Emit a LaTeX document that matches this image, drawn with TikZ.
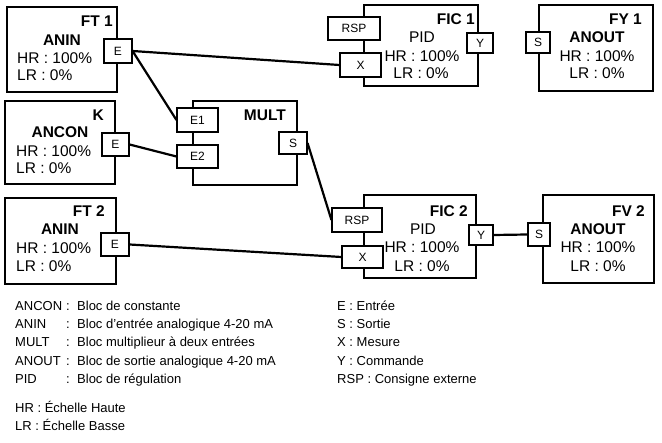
\documentclass[tikz,border=0pt]{standalone}
\usepackage{fontspec}
\setmainfont{Liberation Sans}
\newcommand{\blocfont}{\fontsize{15.5}{18}\selectfont}
\newcommand{\portfont}{\fontsize{12}{14}\selectfont}
\newcommand{\legfont}{\fontsize{13}{15}\selectfont}
\tikzset{
  blok/.style={draw,fill=white,line width=1.1pt,inner sep=0pt},
  port/.style={draw,fill=white,line width=1.1pt,inner sep=0pt,font=\portfont},
  txt/.style={inner sep=0pt,font=\blocfont},
  tag/.style={txt,anchor=base east,font=\blocfont\bfseries},
  leg/.style={inner sep=0pt,anchor=base west,font=\legfont},
  lien/.style={line width=2.2pt}
}
\begin{document}
\begin{tikzpicture}[x=1pt,y=-1pt]
\useasboundingbox (0,0) rectangle (662,443);
% blocs
\node[blok,minimum width=110pt,minimum height=85pt] (ft1) at (62,49.5) {};
\node[blok,minimum width=110pt,minimum height=83pt] (k) at (60,142.5) {};
\node[blok,minimum width=111pt,minimum height=86pt] (ft2) at (60.5,241) {};
\node[blok,minimum width=104pt,minimum height=84pt] (mult) at (245,143) {};
\node[blok,minimum width=114pt,minimum height=81pt] (fic1) at (421,45.5) {};
\node[blok,minimum width=114pt,minimum height=86pt] (fy1) at (596,48) {};
\node[blok,minimum width=112pt,minimum height=83pt] (fic2) at (420,236.5) {};
\node[blok,minimum width=111pt,minimum height=88pt] (fv2) at (598.5,239) {};
% textes des blocs
\node[tag] (ft1t) at (113,27) {FT 1};
\node[txt,anchor=base,font=\blocfont\bfseries] (ft1n) at (62,46) {ANIN};
\node[txt,anchor=base west] (ft1h) at (17,64) {HR : 100\%};
\node[txt,anchor=base west] (ft1l) at (17,81) {LR : 0\%};
\node[tag] (kt) at (104,121) {K};
\node[txt,anchor=base,font=\blocfont\bfseries] (kn) at (60,138) {ANCON};
\node[txt,anchor=base west] (kh) at (16,157) {HR : 100\%};
\node[txt,anchor=base west] (kl) at (16,174) {LR : 0\%};
\node[tag] (ft2t) at (105,217) {FT 2};
\node[txt,anchor=base,font=\blocfont\bfseries] (ft2n) at (60,235) {ANIN};
\node[txt,anchor=base west] (ft2h) at (16,254) {HR : 100\%};
\node[txt,anchor=base west] (ft2l) at (16,272) {LR : 0\%};
\node[tag] (multt) at (286,121) {MULT};
\node[tag] (fic1t) at (475,25) {FIC 1};
\node[txt,anchor=base] (fic1n) at (422,43) {PID};
\node[txt,anchor=base] (fic1h) at (422,62) {HR : 100\%};
\node[txt,anchor=base] (fic1l) at (421,79) {LR : 0\%};
\node[tag] (fy1t) at (642,25) {FY 1};
\node[txt,anchor=base,font=\blocfont\bfseries] (fy1n) at (597,43) {ANOUT};
\node[txt,anchor=base] (fy1h) at (597,62) {HR : 100\%};
\node[txt,anchor=base] (fy1l) at (597,79) {LR : 0\%};
\node[tag] (fic2t) at (468,217) {FIC 2};
\node[txt,anchor=base] (fic2n) at (423,235) {PID};
\node[txt,anchor=base] (fic2h) at (422,253) {HR : 100\%};
\node[txt,anchor=base] (fic2l) at (422,272) {LR : 0\%};
\node[tag] (fv2t) at (645,217) {FV 2};
\node[txt,anchor=base,font=\blocfont\bfseries] (fv2n) at (598,235) {ANOUT};
\node[txt,anchor=base] (fv2h) at (598,253) {HR : 100\%};
\node[txt,anchor=base] (fv2l) at (598,272) {LR : 0\%};
% entrees / sorties
\node[port,minimum width=28pt,minimum height=24pt] (ft1e) at (118,51) {E};
\node[port,minimum width=27pt,minimum height=23pt] (ke) at (115.5,144.5) {E};
\node[port,minimum width=28pt,minimum height=23pt] (ft2e) at (115,244.5) {E};
\node[port,minimum width=41pt,minimum height=24pt] (e1) at (197.5,120) {E1};
\node[port,minimum width=41pt,minimum height=23pt] (e2) at (197.5,156.5) {E2};
\node[port,minimum width=28pt,minimum height=22pt] (ms) at (293,143) {S};
\node[port,minimum width=52pt,minimum height=23pt] (rsp1) at (354,28.5) {RSP};
\node[port,minimum width=41pt,minimum height=24pt] (x1) at (360.5,65) {X};
\node[port,minimum width=26pt,minimum height=20pt] (y1) at (480,43) {Y};
\node[port,minimum width=24pt,minimum height=21pt] (fy1s) at (538,42.5) {S};
\node[port,minimum width=50pt,minimum height=24pt] (rsp2) at (357,220) {RSP};
\node[port,minimum width=41pt,minimum height=22pt] (x2) at (362.5,257) {X};
\node[port,minimum width=24pt,minimum height=20pt] (y2) at (481,235) {Y};
\node[port,minimum width=22pt,minimum height=23pt] (fv2s) at (539,234.5) {S};
% liaisons
\draw[lien] (ft1e.east) -- (x1.west);
\draw[lien] (ft1e.east) -- (e1.west);
\draw[lien] (ke.east) -- (e2.west);
\draw[lien] (ms.east) -- (rsp2.west);
\draw[lien] (ft2e.east) -- (x2.west);
\draw[lien] (y2.east) -- (fv2s.west);
% legende
\node[leg] (l1a) at (15,311) {ANCON};
\node[leg] (l2a) at (15,329) {ANIN};
\node[leg] (l3a) at (15,347) {MULT};
\node[leg] (l4a) at (15,366) {ANOUT};
\node[leg] (l5a) at (15,384) {PID};
\node[leg] (l1b) at (66,311) {:};
\node[leg] (l2b) at (66,329) {:};
\node[leg] (l3b) at (66,347) {:};
\node[leg] (l4b) at (66,366) {:};
\node[leg] (l5b) at (66,384) {:};
\node[leg] (l1c) at (77,311) {Bloc de constante};
\node[leg] (l2c) at (77,329) {Bloc d'entrée analogique 4-20 mA};
\node[leg] (l3c) at (77,347) {Bloc multiplieur à deux entrées};
\node[leg] (l4c) at (77,366) {Bloc de sortie analogique 4-20 mA};
\node[leg] (l5c) at (77,384) {Bloc de régulation};
\node[leg] (r1) at (337,311) {E : Entrée};
\node[leg] (r2) at (337,329) {S : Sortie};
\node[leg] (r3) at (337,347) {X : Mesure};
\node[leg] (r4) at (337,366) {Y : Commande};
\node[leg] (r5) at (337,384) {RSP : Consigne externe};
\node[leg] (hr) at (15,413) {HR : Échelle Haute};
\node[leg] (lr) at (15,431) {LR : Échelle Basse};
\end{tikzpicture}
\end{document}
